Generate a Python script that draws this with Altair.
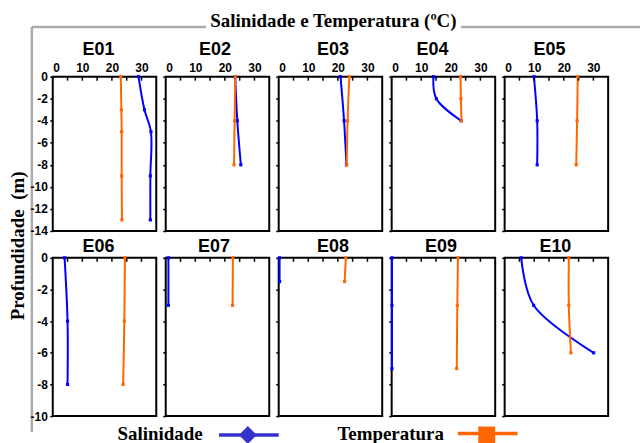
import altair as alt
import pandas as pd

# ---------------- data ----------------
stations_top = ["E01", "E02", "E03", "E04", "E05"]
stations_bottom = ["E06", "E07", "E08", "E09", "E10"]
series_names = ["Salinidade", "Temperatura"]

E01_depth = [0, -3, -5, -9, -13]
E01_sal = [29.0, 31.0, 33.2, 33.0, 33.0]
E01_temp = [23.0, 23.2, 23.3, 23.3, 23.4]

E02_depth = [0, -4, -8]
E02_sal = [23.5, 24.2, 25.4]
E02_temp = [23.5, 23.3, 23.1]

E03_depth = [0, -4, -8]
E03_sal = [20.9, 22.1, 22.9]
E03_temp = [23.9, 23.3, 23.0]

E04_depth = [0, -2, -4]
E04_sal = [14.1, 15.1, 23.5]
E04_temp = [23.3, 23.4, 23.6]

E05_depth = [0, -4, -8]
E05_sal = [9.9, 11.0, 11.0]
E05_temp = [24.7, 24.5, 24.2]

E06_depth = [0, -4, -8]
E06_sal = [4.0, 5.0, 5.0]
E06_temp = [24.4, 24.2, 23.8]

E07_depth = [0, -3]
E07_sal = [0.9, 0.9]
E07_temp = [22.7, 22.6]

E08_depth = [0, -1.5]
E08_sal = [0.3, 0.3]
E08_temp = [22.7, 22.3]

E09_depth = [0, -3, -7]
E09_sal = [0.1, 0.1, 0.1]
E09_temp = [22.4, 22.2, 22.0]

E10_depth = [0, -3, -6]
E10_sal = [5.6, 9.8, 30.1]
E10_temp = [21.7, 21.7, 22.4]

x_ticks = [0, 5, 10, 15, 20, 25, 30, 35]
x_inner_ticks = [5, 10, 15, 20, 25, 30]
y_ticks_top = [0, -2, -4, -6, -8, -10, -12, -14]
y_ticks_bottom = [0, -2, -4, -6, -8, -10]

main_title = "Salinidade e Temperatura (ºC)"
y_title = "Profundidade\u00a0 (m)"

DATA = {
    "E01": (E01_depth, E01_sal, E01_temp),
    "E02": (E02_depth, E02_sal, E02_temp),
    "E03": (E03_depth, E03_sal, E03_temp),
    "E04": (E04_depth, E04_sal, E04_temp),
    "E05": (E05_depth, E05_sal, E05_temp),
    "E06": (E06_depth, E06_sal, E06_temp),
    "E07": (E07_depth, E07_sal, E07_temp),
    "E08": (E08_depth, E08_sal, E08_temp),
    "E09": (E09_depth, E09_sal, E09_temp),
    "E10": (E10_depth, E10_sal, E10_temp),
}

# ---------------- style ----------------
BLUE = "#0000FF"
ORANGE = "#FF6600"
LEG_BLUE = "#3333CC"
GREY = "#ABABAB"
SANS = "Liberation Sans"
SERIF = "Liberation Serif"
PW = 104
TITLE_X = {"E01": 46, "E02": 49.5, "E03": 54.5, "E04": 41, "E05": 45,
           "E06": 46, "E07": 48.5, "E08": 54.5, "E09": 49.5, "E10": 51}


def panel(name, ymin, yvals, height, show_x_labels, show_y_labels, title_y):
    depth, sal, temp = DATA[name]
    rows = []
    for i, (d, v) in enumerate(zip(depth, sal)):
        rows.append({"series": series_names[0], "depth": d, "value": v, "idx": i})
    for i, (d, v) in enumerate(zip(depth, temp)):
        rows.append({"series": series_names[1], "depth": d, "value": v, "idx": i})
    df = pd.DataFrame(rows)

    xs = alt.Scale(domain=[0, 35], nice=False, zero=False)
    ys = alt.Scale(domain=[ymin, 0], nice=False, zero=False)
    xaxis = alt.Axis(orient="top", values=x_ticks,
                     labelExpr="datum.value % 10 == 0 ? datum.label : ''",
                     ticks=False, domain=False, grid=False, title=None,
                     labels=show_x_labels, labelFont=SANS, labelFontSize=12,
                     labelFontWeight="bold", labelColor="black", labelPadding=2)
    yaxis = alt.Axis(values=yvals,
                     labelExpr="datum.value == 0 ? '0' : '-' + abs(datum.value)",
                     tickSize=3, tickWidth=1.5, tickColor="black",
                     domain=False, grid=False, title=None,
                     labels=show_y_labels, labelFont=SANS, labelFontSize=12,
                     labelFontWeight="bold", labelColor="black", labelPadding=2.5)
    color = alt.Color("series:N",
                      scale=alt.Scale(domain=series_names, range=[BLUE, ORANGE]),
                      legend=None)
    base = alt.Chart(df).encode(
        x=alt.X("value:Q", scale=xs, axis=xaxis),
        y=alt.Y("depth:Q", scale=ys, axis=yaxis),
        color=color,
        order=alt.Order("idx:Q"),
    )
    lines = base.mark_line(interpolate="catmull-rom", strokeWidth=2)
    pts = base.mark_square(size=10, opacity=1)
    ticks = alt.Chart(pd.DataFrame({"t": x_inner_ticks})).mark_rule(
        color="black", strokeWidth=1.5
    ).encode(x=alt.X("t:Q", scale=xs, axis=xaxis), y=alt.value(0), y2=alt.value(4))
    ttl = alt.Chart(pd.DataFrame({"station": [name]})).mark_text(
        font=SANS, fontWeight="bold", fontSize=18, baseline="alphabetic",
        align="center", color="black"
    ).encode(text="station:N", x=alt.value(TITLE_X[name]), y=alt.value(title_y))
    return alt.layer(lines, ticks, pts, ttl).properties(
        width=PW, height=height,
        view=alt.ViewBackground(stroke="black", strokeWidth=2),
    )


panels = ([panel(s, -14, y_ticks_top, 155, True, s == "E01", -21.7) for s in stations_top]
          + [panel(s, -10, y_ticks_bottom, 159, False, s == "E06", -6) for s in stations_bottom])
grid = alt.concat(*panels, columns=5, spacing={"row": 27, "column": 9.5}, bounds="flush")

# ---------------- decorations: frame, titles, legend ----------------
deco = alt.Chart(pd.DataFrame({"a": [0]}))
anchor = deco.mark_rule(color="white", strokeWidth=1).encode(
    x=alt.value(0), x2=alt.value(5), y=alt.value(-74.5))
frame_v = deco.mark_rule(color=GREY, strokeWidth=2.5).encode(
    x=alt.value(31), y=alt.value(-50), y2=alt.value(357))
frame_h1 = deco.mark_rule(color=GREY, strokeWidth=2.5).encode(
    x=alt.value(31), x2=alt.value(206), y=alt.value(-50))
frame_h2 = deco.mark_rule(color=GREY, strokeWidth=2.5).encode(
    x=alt.value(462), x2=alt.value(642), y=alt.value(-50))
title_t = deco.mark_text(font=SERIF, fontWeight="bold", fontSize=19,
                         baseline="alphabetic", align="center", color="black").encode(
    text=alt.value(main_title), x=alt.value(334), y=alt.value(-50))
ytitle_t = deco.mark_text(font=SERIF, fontWeight="bold", fontSize=19, angle=270,
                          baseline="alphabetic", align="center", color="black").encode(
    text=alt.value(y_title), x=alt.value(23), y=alt.value(170))

leg_sal_text = deco.mark_text(font=SERIF, fontWeight="bold", fontSize=19,
                              baseline="alphabetic", align="left", color="black").encode(
    text=alt.value(series_names[0]), x=alt.value(117), y=alt.value(365))
leg_tem_text = deco.mark_text(font=SERIF, fontWeight="bold", fontSize=19,
                              baseline="alphabetic", align="left", color="black").encode(
    text=alt.value(series_names[1]), x=alt.value(338), y=alt.value(365))
leg_sal_line = deco.mark_rule(color=LEG_BLUE, strokeWidth=3.3).encode(
    x=alt.value(219), x2=alt.value(279), y=alt.value(360))
leg_tem_line = deco.mark_rule(color=ORANGE, strokeWidth=3.3).encode(
    x=alt.value(459), x2=alt.value(519), y=alt.value(358.5))
leg_sal_pt = deco.mark_point(shape="diamond", size=324, filled=True,
                             color=LEG_BLUE, opacity=1).encode(
    x=alt.value(248), y=alt.value(360))
leg_tem_pt = deco.mark_point(shape="square", size=289, filled=True,
                             color=ORANGE, opacity=1).encode(
    x=alt.value(488), y=alt.value(360))

side = alt.layer(anchor, frame_v, frame_h1, frame_h2, title_t, ytitle_t,
                 leg_sal_line, leg_tem_line, leg_sal_pt, leg_tem_pt,
                 leg_sal_text, leg_tem_text).properties(
    width=31, height=341, view=alt.ViewBackground(stroke="transparent"))

chart = alt.hconcat(side, grid, spacing=21, bounds="flush").properties(
    padding=0, background="white"
).configure_view(stroke="transparent")

chart.save("out.html", embed_options={"renderer": "svg", "actions": False})
